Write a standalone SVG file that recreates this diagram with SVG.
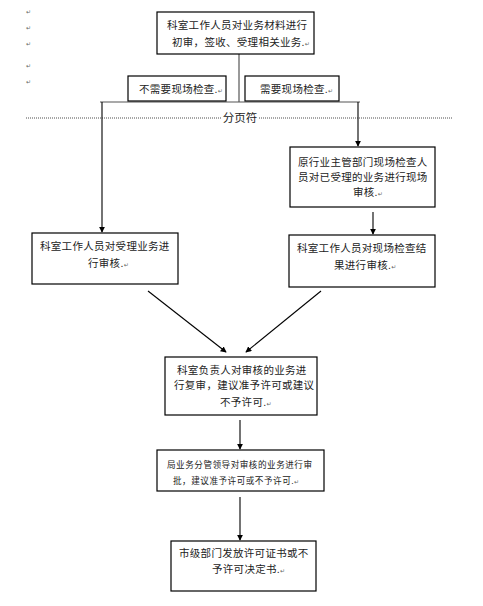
<svg xmlns="http://www.w3.org/2000/svg" width="483" height="606" viewBox="0 0 483 606">
<style>
.box{fill:#fff;stroke:#000;stroke-width:1.2}
.t{font-family:"Liberation Sans","Noto Sans CJK SC",sans-serif;font-size:10.5px;letter-spacing:0.3px;fill:#222}
.s{font-size:8.6px;letter-spacing:0.5px}
.pm{font-family:"DejaVu Sans",sans-serif;font-size:6px;letter-spacing:0;fill:#666}
.ln{stroke:#000;stroke-width:1.1;fill:none}
.gl{stroke:#555;stroke-width:1.2;fill:none}
</style>
<defs>
<marker id="ah" viewBox="0 0 8 8" refX="7" refY="4" markerWidth="6" markerHeight="6" orient="auto" markerUnits="userSpaceOnUse">
<path d="M0,0 L8,4 L0,8 z" fill="#000"/>
</marker>
</defs>
<rect width="483" height="606" fill="#fff"/>
<g id="marks">
<text class="pm" x="26" y="14">↵</text>
<text class="pm" x="26" y="30">↵</text>
<text class="pm" x="26" y="46">↵</text>
<text class="pm" x="26" y="68">↵</text>
<text class="pm" x="26" y="84">↵</text>
</g>
<g id="connectors">
<line class="gl" x1="239" y1="54" x2="239" y2="102"/>
<line class="gl" x1="100" y1="102" x2="360" y2="102"/>
<line class="ln" x1="102" y1="102" x2="102" y2="232" marker-end="url(#ah)"/>
<line class="ln" x1="358" y1="102" x2="358" y2="146" marker-end="url(#ah)"/>
<line class="ln" x1="373" y1="212" x2="373" y2="234" marker-end="url(#ah)"/>
<line class="ln" x1="148" y1="291" x2="226" y2="352" marker-end="url(#ah)"/>
<line class="ln" x1="321" y1="291" x2="246" y2="352" marker-end="url(#ah)"/>
<line class="ln" x1="240" y1="420" x2="240" y2="449" marker-end="url(#ah)"/>
<line class="ln" x1="240" y1="497" x2="240" y2="540" marker-end="url(#ah)"/>
</g>
<g id="pagebreak">
<line x1="26" y1="118" x2="221" y2="118" stroke="#222" stroke-width="0.8" stroke-dasharray="1,1"/>
<line x1="259" y1="118" x2="453" y2="118" stroke="#222" stroke-width="0.8" stroke-dasharray="1,1"/>
<text class="t" x="240" y="122" text-anchor="middle" style="font-size:11.5px;letter-spacing:0">分页符</text>
</g>
<g id="n1">
<rect class="box" x="157" y="12" width="157" height="42"/>
<text class="t" x="167" y="29">科室工作人员对业务材料进行</text>
<text class="t" x="172" y="46">初审，签收、受理相关业务.<tspan class="pm">↵</tspan></text>
</g>
<g id="l1">
<rect class="box" x="128" y="76" width="98" height="25"/>
<text class="t" x="139" y="93">不需要现场检查.<tspan class="pm">↵</tspan></text>
</g>
<g id="l2">
<rect class="box" x="245" y="76" width="94" height="25"/>
<text class="t" x="260" y="93">需要现场检查.<tspan class="pm">↵</tspan></text>
</g>
<g id="n2">
<rect class="box" x="290" y="147" width="145" height="60"/>
<text class="t" x="298" y="166">原行业主管部门现场检查人</text>
<text class="t" x="298" y="181">员对已受理的业务进行现场</text>
<text class="t" x="353" y="196">审核.<tspan class="pm">↵</tspan></text>
</g>
<g id="n3">
<rect class="box" x="32" y="233" width="146" height="51"/>
<text class="t" x="40" y="250">科室工作人员对受理业务进</text>
<text class="t" x="88" y="267">行审核.<tspan class="pm">↵</tspan></text>
</g>
<g id="n4">
<rect class="box" x="289" y="235" width="146" height="52"/>
<text class="t" x="297" y="252">科室工作人员对现场检查结</text>
<text class="t" x="334" y="269">果进行审核.<tspan class="pm">↵</tspan></text>
</g>
<g id="n5">
<rect class="box" x="165" y="357" width="152" height="58"/>
<text class="t" x="177" y="374">科室负责人对审核的业务进</text>
<text class="t" x="174" y="389">行复审，建议准予许可或建议</text>
<text class="t" x="220" y="406">不予许可.<tspan class="pm">↵</tspan></text>
</g>
<g id="n6">
<rect class="box" x="157" y="450" width="167" height="41"/>
<text class="t s" x="167" y="468">局业务分管领导对审核的业务进行审</text>
<text class="t s" x="173" y="484">批，建议准予许可或不予许可.<tspan class="pm">↵</tspan></text>
</g>
<g id="n7">
<rect class="box" x="171" y="541" width="145" height="50"/>
<text class="t" x="179" y="557">市级部门发放许可证书或不</text>
<text class="t" x="212" y="573">予许可决定书.<tspan class="pm">↵</tspan></text>
</g>
</svg>
